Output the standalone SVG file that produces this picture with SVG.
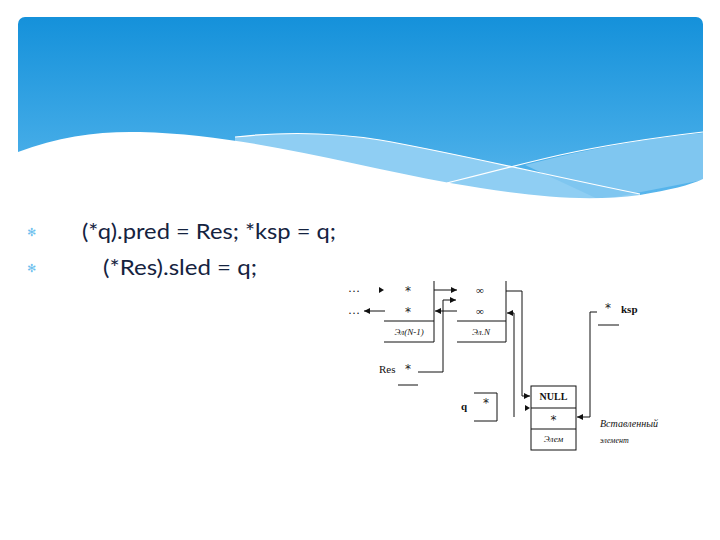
<svg xmlns="http://www.w3.org/2000/svg" width="720" height="540" viewBox="0 0 720 540">
<defs>
<linearGradient id="sky" x1="0" y1="0" x2="0" y2="1">
<stop offset="0" stop-color="#1591da"/>
<stop offset="0.6" stop-color="#3fa9e6"/>
<stop offset="1" stop-color="#62baee"/>
</linearGradient>
<marker id="ah" viewBox="0 0 6 6" refX="6" refY="3" markerWidth="6" markerHeight="6" markerUnits="userSpaceOnUse" orient="auto">
<path d="M0,0 L6,3 L0,6 Z" fill="#111"/>
</marker>
<style>
.ln{stroke:#111;stroke-width:1;fill:none}
.cn{stroke:#111;stroke-width:1;fill:none;marker-end:url(#ah)}
.ah{fill:#111}
.sf{font-family:"Liberation Serif","DejaVu Serif",serif;fill:#111}
.st{font-family:"DejaVu Sans",sans-serif;fill:#222;font-size:12px}
.it{font-style:italic}
.bd{font-weight:bold}
.main{font-family:Lato,"Open Sans",sans-serif;font-size:22px;fill:#15233f}
.bul{font-family:"DejaVu Sans",sans-serif;font-size:11px;fill:#6cbfee}
</style>
</defs>
<rect width="720" height="540" fill="#ffffff"/>
<g id="header">
<rect x="18" y="17" width="685" height="200" rx="7" fill="url(#sky)"/>
<path d="M235,137 C280,132 330,132 380,140 C450,152 560,178 640,194 L640,200 L235,200 Z" fill="#8fcef3"/>
<path d="M525,165 C590,148 650,138 703,133 L703,180 L600,200 Z" fill="#7fc6f0"/>
<path d="M18,152 C60,136 100,131 140,132 C250,135 350,165 450,183 C520,195 580,203 640,195 C670,190 690,185 703,179 L703,220 L18,220 Z" fill="#ffffff"/>
<path d="M235,137 C280,132 330,132 380,140 C450,152 560,178 640,194" stroke="#ffffff" stroke-width="1.2" fill="none"/>
<path d="M447,183 C490,172 525,163 560,155 C610,144 660,137 703,132" stroke="#ffffff" stroke-width="1.2" fill="none"/>
</g>
<g id="code">
<text class="bul" x="27" y="236">✻</text>
<text class="bul" x="27" y="272">✻</text>
<text class="main" x="82" y="239" textLength="254" lengthAdjust="spacingAndGlyphs">(*q).pred = Res; *ksp = q;</text>
<text class="main" x="103" y="275" textLength="154" lengthAdjust="spacingAndGlyphs">(*Res).sled = q;</text>
</g>
<g id="node-prev">
<text class="sf" x="348" y="292" font-size="12">…</text>
<text class="sf" x="348" y="314" font-size="12">…</text>
<text class="st" x="405" y="295">*</text>
<text class="st" x="405" y="316">*</text>
<path class="ln" d="M434,281 V342 M384,321 H434 M384,342 H434"/>
<text class="sf it" x="409" y="335" font-size="9" text-anchor="middle">Эл(N-1)</text>
</g>
<g id="node-n">
<text class="sf" x="480" y="294" font-size="11" text-anchor="middle">∞</text>
<text class="sf" x="480" y="315" font-size="11" text-anchor="middle">∞</text>
<path class="ln" d="M506,281 V342 M457,321 H506 M457,342 H506"/>
<text class="sf it" x="481" y="335" font-size="9" text-anchor="middle">Эл.N</text>
</g>
<g id="node-res">
<text class="sf" x="379" y="373" font-size="11">Res</text>
<text class="st" x="405" y="373">*</text>
<path class="ln" d="M398,385 H418"/>
</g>
<g id="node-q">
<text class="sf bd" x="461" y="410" font-size="11">q</text>
<text class="st" x="483" y="407">*</text>
<path class="ln" d="M474,393 H497 V421 H474"/>
</g>
<g id="node-new">
<rect x="531" y="386" width="45" height="64" fill="none" stroke="#111" stroke-width="1"/>
<path class="ln" d="M531,408 H576 M531,429 H576"/>
<text class="sf bd" x="553.5" y="400" font-size="10" text-anchor="middle">NULL</text>
<text class="st" x="553.5" y="424" font-size="10" text-anchor="middle">*</text>
<text class="sf it" x="553.5" y="442" font-size="9" text-anchor="middle">Элем</text>
</g>
<g id="node-ksp">
<text class="st" x="605" y="312">*</text>
<text class="sf bd" x="621" y="313" font-size="11">ksp</text>
<path class="ln" d="M598,325 H619"/>
</g>
<g id="label-new">
<text class="sf it" x="600" y="427" font-size="10">Вставленный</text>
<text class="sf it" x="600" y="443" font-size="8">элемент</text>
</g>
<g id="connectors">
<path class="ah" d="M379,287 L384,290 L379,293 Z"/>
<path class="cn" d="M385,311 H364"/>
<path class="cn" d="M434,290 H457"/>
<path class="cn" d="M418,372 H443 V300 H456"/>
<path class="cn" d="M457,311 H435"/>
<path class="cn" d="M506,291 H522 V396 H530"/>
<path class="cn" d="M514,417 V313 H507"/>
<path class="ah" d="M525,405 L530,408 L525,411 Z"/>
<path class="cn" d="M597,312 H590 V417 H577"/>
</g>
</svg>
